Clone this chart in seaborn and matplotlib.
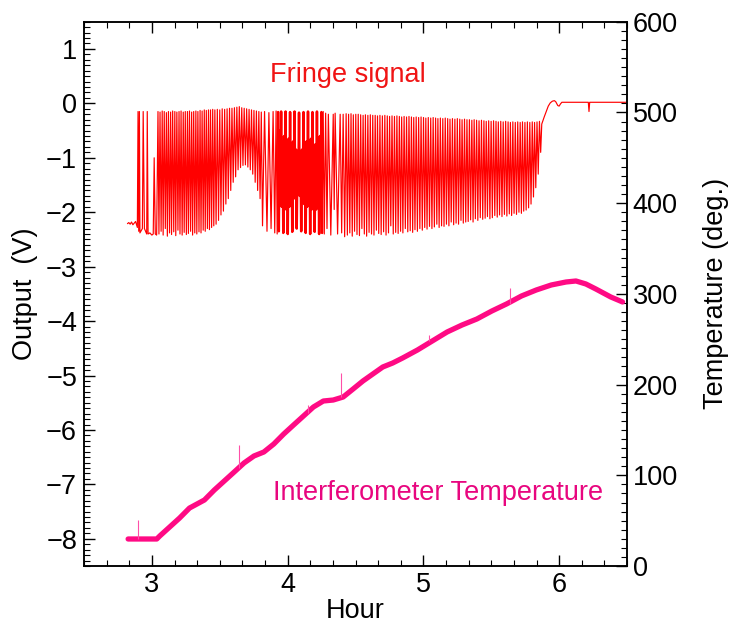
import numpy as np
import pandas as pd
import matplotlib
matplotlib.use("Agg")
import matplotlib.pyplot as plt
import seaborn as sns
from matplotlib.ticker import MultipleLocator

# ---------------- data ----------------
# Fringe signal (V) - turning points of the trace, section by section
start_t = [2.820, 2.830, 2.840, 2.850, 2.860, 2.870, 2.880, 2.893, 2.898, 2.903, 2.908, 2.912,
           2.930, 2.936, 2.945, 2.955, 2.962, 2.966, 2.972, 2.985, 3.000, 3.010, 3.017, 3.025, 3.035]
start_v = [-2.21, -2.19, -2.22, -2.18, -2.23, -2.20, -2.17, -2.28, -0.15, -2.35, -0.15, -2.38,
           -2.30, -0.15, -2.30, -2.36, -2.40, -0.15, -2.40, -2.38, -2.42, -2.40, -1.00, -2.40, -2.42]

a_peak_t = [3.045, 3.060, 3.076, 3.091, 3.107, 3.122, 3.138, 3.153, 3.169, 3.184, 3.200, 3.215, 3.231, 3.246,
            3.262, 3.277, 3.293, 3.308, 3.324, 3.339, 3.355, 3.370, 3.386, 3.401, 3.417, 3.432, 3.448]
a_peak_v = [-0.15, -0.16, -0.14, -0.15, -0.17, -0.15, -0.16, -0.14, -0.15, -0.16, -0.15, -0.14, -0.16, -0.15,
            -0.15, -0.14, -0.16, -0.15, -0.14, -0.15, -0.13, -0.14, -0.12, -0.13, -0.12, -0.12, -0.11]
a_valley_t = [3.052, 3.068, 3.083, 3.099, 3.114, 3.130, 3.145, 3.161, 3.176, 3.192, 3.207, 3.223, 3.238, 3.254,
              3.269, 3.285, 3.300, 3.316, 3.331, 3.347, 3.362, 3.378, 3.393, 3.409, 3.424, 3.440, 3.456]
a_valley_v = [-2.40, -2.35, -2.42, -2.30, -2.44, -2.38, -2.41, -2.36, -2.43, -2.33, -2.40, -2.42, -2.37, -2.41,
              -2.39, -2.35, -2.42, -2.38, -2.40, -2.36, -2.38, -2.33, -2.35, -2.30, -2.32, -2.28, -2.25]

b_peak_t = [3.464, 3.482, 3.500, 3.518, 3.536, 3.554, 3.572, 3.590, 3.608, 3.626,
            3.644, 3.662, 3.680, 3.698, 3.716, 3.734, 3.752, 3.770, 3.788, 3.806]
b_peak_v = [-0.12, -0.11, -0.12, -0.10, -0.11, -0.10, -0.09, -0.09, -0.08, -0.07,
            -0.06, -0.08, -0.09, -0.10, -0.11, -0.12, -0.13, -0.14, -0.15, -0.16]
b_valley_t = [3.473, 3.491, 3.509, 3.527, 3.545, 3.563, 3.581, 3.599, 3.617, 3.635,
              3.653, 3.671, 3.689, 3.707, 3.725, 3.743, 3.761, 3.779, 3.797, 3.815]
b_valley_v = [-2.22, -2.15, -2.05, -1.98, -1.85, -1.75, -1.60, -1.45, -1.35, -1.22,
              -1.18, -1.14, -1.13, -1.17, -1.22, -1.30, -1.45, -1.60, -1.75, -2.25]

c_t = [3.830, 3.848, 3.862, 3.878, 3.893, 3.905, 3.915, 3.923]
c_v = [-0.15, -2.35, -0.17, -2.30, -0.15, -2.38, -0.14, -2.40]

d_peak_t = [3.930, 3.941, 3.952, 3.963, 3.974, 3.985, 3.996, 4.007, 4.018, 4.029,
            4.040, 4.051, 4.062, 4.073, 4.084, 4.095, 4.106, 4.117, 4.128, 4.139,
            4.150, 4.161, 4.172, 4.183, 4.194, 4.205, 4.216, 4.227, 4.238, 4.249]
d_peak_v = [-0.16, -0.50, -0.15, -0.70, -0.60, -0.15, -0.75, -0.65, -0.16, -0.80,
            -0.70, -0.15, -0.85, -0.95, -0.17, -0.90, -0.85, -0.16, -0.80, -0.70,
            -0.15, -0.75, -0.65, -0.16, -0.80, -0.75, -0.15, -0.90, -0.60, -0.16]
d_valley_t = [3.935, 3.946, 3.957, 3.968, 3.979, 3.990, 4.001, 4.012, 4.023, 4.034,
              4.045, 4.056, 4.067, 4.078, 4.089, 4.100, 4.111, 4.122, 4.133, 4.144,
              4.155, 4.166, 4.177, 4.188, 4.199, 4.210, 4.221, 4.232, 4.243, 4.254]
d_valley_v = [-2.35, -1.80, -1.90, -2.38, -1.85, -1.95, -2.40, -1.90, -1.80, -2.36,
              -1.75, -1.70, -2.30, -1.65, -1.70, -2.35, -1.80, -1.85, -2.38, -1.90,
              -1.85, -2.40, -1.95, -1.90, -2.36, -1.95, -1.85, -2.40, -2.00, -2.38]

e_t = [4.262, 4.270, 4.280, 4.290, 4.300, 4.318, 4.336, 4.343, 4.350, 4.368, 4.387, 4.398, 4.409, 4.420]
e_v = [-0.15, -2.40, -0.18, -2.30, -0.20, -2.42, -0.20, -1.95, -0.18, -2.40, -0.20, -2.38, -0.20, -2.45]

f_peak_t = [4.431, 4.449, 4.467, 4.484, 4.502, 4.520, 4.538, 4.556, 4.573, 4.591,
            4.609, 4.627, 4.645, 4.662, 4.680, 4.698, 4.716, 4.734, 4.751, 4.769,
            4.787, 4.805, 4.823, 4.840, 4.858, 4.876, 4.894, 4.912, 4.929, 4.947,
            4.965, 4.983, 5.001, 5.018, 5.036, 5.054, 5.072, 5.090, 5.107, 5.125,
            5.143, 5.161, 5.179, 5.196, 5.214, 5.232, 5.250, 5.268, 5.285, 5.303,
            5.321, 5.339, 5.357, 5.374, 5.392, 5.410, 5.428, 5.446, 5.463, 5.481,
            5.499, 5.517, 5.535, 5.552, 5.570, 5.588, 5.606, 5.624, 5.641, 5.659,
            5.677, 5.695, 5.713, 5.730, 5.748, 5.766, 5.784, 5.802, 5.819, 5.837, 5.855]
f_peak_v = [-0.19, -0.20, -0.19, -0.21, -0.20, -0.20, -0.21, -0.22, -0.21, -0.22,
            -0.21, -0.22, -0.22, -0.23, -0.22, -0.23, -0.22, -0.23, -0.24, -0.23,
            -0.24, -0.23, -0.24, -0.25, -0.24, -0.25, -0.24, -0.25, -0.26, -0.25,
            -0.26, -0.25, -0.26, -0.27, -0.26, -0.27, -0.26, -0.27, -0.28, -0.27,
            -0.28, -0.27, -0.28, -0.29, -0.28, -0.29, -0.28, -0.29, -0.30, -0.29,
            -0.30, -0.30, -0.31, -0.30, -0.31, -0.32, -0.31, -0.32, -0.33, -0.32,
            -0.33, -0.32, -0.33, -0.34, -0.33, -0.34, -0.33, -0.34, -0.35, -0.34,
            -0.35, -0.34, -0.35, -0.34, -0.35, -0.34, -0.35, -0.34, -0.35, -0.34, -0.33]
f_valley_t = [4.440, 4.458, 4.476, 4.493, 4.511, 4.529, 4.547, 4.565, 4.582, 4.600,
              4.618, 4.636, 4.654, 4.671, 4.689, 4.707, 4.725, 4.743, 4.760, 4.778,
              4.796, 4.814, 4.832, 4.849, 4.867, 4.885, 4.903, 4.921, 4.938, 4.956,
              4.974, 4.992, 5.010, 5.027, 5.045, 5.063, 5.081, 5.099, 5.116, 5.134,
              5.152, 5.170, 5.188, 5.205, 5.223, 5.241, 5.259, 5.277, 5.294, 5.312,
              5.330, 5.348, 5.366, 5.383, 5.401, 5.419, 5.437, 5.455, 5.472, 5.490,
              5.508, 5.526, 5.544, 5.561, 5.579, 5.597, 5.615, 5.633, 5.650, 5.668,
              5.686, 5.704, 5.722, 5.739, 5.757, 5.775, 5.793, 5.811, 5.828, 5.846, 5.864]
f_valley_v = [-2.42, -2.38, -2.44, -2.35, -2.41, -2.43, -2.30, -2.40, -2.44, -2.37,
              -2.40, -2.42, -2.33, -2.39, -2.41, -2.36, -2.42, -2.38, -2.25, -2.40,
              -2.37, -2.39, -2.35, -2.38, -2.30, -2.36, -2.34, -2.37, -2.32, -2.35,
              -2.30, -2.33, -2.28, -2.31, -2.26, -2.30, -2.27, -2.22, -2.28, -2.25,
              -2.26, -2.22, -2.25, -2.18, -2.23, -2.20, -2.22, -2.15, -2.20, -2.18,
              -2.17, -2.14, -2.18, -2.12, -2.15, -2.10, -2.13, -2.11, -2.08, -2.12,
              -2.10, -2.06, -2.09, -2.05, -2.08, -2.04, -2.07, -2.03, -2.06, -2.02,
              -2.04, -2.00, -2.02, -1.98, -1.96, -1.92, -1.85, -1.72, -1.55, -1.30, -0.90]

end_t = [5.872, 5.880, 5.890, 5.905, 5.920, 5.935, 5.950, 5.965, 5.975, 5.990,
         6.000, 6.010, 6.020, 6.215, 6.220, 6.225, 6.500]
end_v = [-0.38, -0.32, -0.25, -0.15, -0.05, 0.01, 0.04, 0.05, 0.03, -0.04,
         -0.05, -0.01, 0.02, 0.02, -0.15, 0.02, 0.02]

# Interferometer temperature (deg.)
temp_hour = [2.825, 3.036, 3.058, 3.131, 3.204, 3.277, 3.387, 3.460, 3.533, 3.606, 3.679, 3.752,
             3.825, 3.898, 3.971, 4.044, 4.117, 4.190, 4.263, 4.336, 4.409, 4.482, 4.555, 4.628,
             4.701, 4.774, 4.847, 4.956, 5.066, 5.175, 5.285, 5.394, 5.504, 5.613, 5.723, 5.832,
             5.942, 6.051, 6.124, 6.197, 6.270, 6.380, 6.467]
temp_deg = [29.8, 29.8, 33.1, 43.0, 52.9, 63.9, 72.8, 83.8, 93.7, 103.6, 113.6, 121.3,
            125.7, 134.5, 145.5, 155.5, 165.4, 175.3, 181.9, 183.0, 186.3, 195.1, 204.0, 211.7,
            219.4, 223.8, 229.3, 238.1, 248.1, 258.0, 265.7, 272.3, 281.1, 288.9, 297.7, 304.3,
            309.8, 313.1, 314.2, 310.9, 305.4, 296.6, 291.1]

# small glitches on the temperature record
spike_hour = [2.90, 3.64, 4.15, 4.39, 5.04, 5.64]
spike_base = [30.0, 108.0, 169.0, 186.0, 248.0, 289.0]
spike_top = [51.0, 133.0, 177.0, 213.0, 255.0, 306.0]

x_ticks = [3, 4, 5, 6]
v_ticks = [-8, -7, -6, -5, -4, -3, -2, -1, 0, 1]
t_ticks = [0, 100, 200, 300, 400, 500, 600]


def interleave(a, b):
    out = []
    for i in range(max(len(a), len(b))):
        if i < len(a):
            out.append(a[i])
        if i < len(b):
            out.append(b[i])
    return out


fringe_t = (start_t + interleave(a_peak_t, a_valley_t) + interleave(b_peak_t, b_valley_t) + c_t
            + interleave(d_peak_t, d_valley_t) + e_t + interleave(f_peak_t, f_valley_t) + end_t)
fringe_v = (start_v + interleave(a_peak_v, a_valley_v) + interleave(b_peak_v, b_valley_v) + c_v
            + interleave(d_peak_v, d_valley_v) + e_v + interleave(f_peak_v, f_valley_v) + end_v)
fringe_df = pd.DataFrame({"Hour": fringe_t, "Output": fringe_v})
blob_df = pd.DataFrame({"Hour": interleave(d_peak_t, d_valley_t),
                        "Output": interleave(d_peak_v, d_valley_v)})
temp_df = pd.DataFrame({"Hour": temp_hour, "Temperature": temp_deg})

# ---------------- style ----------------
sns.set_theme(style="ticks")
plt.rcParams["font.family"] = ["Liberation Sans", "DejaVu Sans"]
FS = 19.5

fig = plt.figure(figsize=(7.33, 6.26), dpi=100)
ax = fig.add_axes([0.1146, 0.0958, 0.7408, 0.8695])
ax2 = ax.twinx()

sns.lineplot(data=fringe_df, x="Hour", y="Output", ax=ax, color="#ff0000", lw=0.85,
             sort=False, estimator=None, legend=False)
# the densely packed fringes around hour 4 merge into a solid patch
sns.lineplot(data=blob_df, x="Hour", y="Output", ax=ax, color="#ff0000", lw=1.8,
             sort=False, estimator=None, legend=False)
sns.lineplot(data=temp_df, x="Hour", y="Temperature", ax=ax2, color="#ff0a84", lw=3.8,
             sort=False, estimator=None, legend=False)
ax2.vlines(spike_hour, spike_base, spike_top, color="#ff4fa8", lw=0.8)

ax.set_xlim(2.5, 6.5)
ax.set_ylim(-8.5, 1.5)
ax2.set_ylim(0, 600)

ax.set_xticks(x_ticks)
ax.set_yticks(v_ticks)
ax.set_yticklabels([("\u2212%d" % abs(v)) if v < 0 else str(v) for v in v_ticks])
ax2.set_yticks(t_ticks)
ax.xaxis.set_minor_locator(MultipleLocator(1 / 6))
ax.yaxis.set_minor_locator(MultipleLocator(0.1))
ax2.yaxis.set_minor_locator(MultipleLocator(10))

ax.tick_params(axis="x", which="both", direction="in", top=True, bottom=True, labelsize=FS,
               pad=4, colors="black")
ax.tick_params(axis="y", which="both", direction="in", left=True, right=False, labelsize=FS,
               pad=5, colors="black")
ax2.tick_params(axis="y", which="both", direction="in", right=True, left=False, labelsize=FS,
                pad=4, colors="black")
for a in (ax, ax2):
    a.tick_params(which="major", length=8, width=1.0)
    a.tick_params(which="minor", length=4, width=0.8)
    for s in a.spines.values():
        s.set_color("black")
        s.set_linewidth(1.1)

ax.set_xlabel("Hour", fontsize=FS, labelpad=0, color="black")
ax.set_ylabel("Output  (V)", fontsize=FS, labelpad=6, color="black")
ax2.set_ylabel("Temperature (deg.)", fontsize=FS, labelpad=18, color="black")

ax.text(4.445, 0.53, "Fringe signal", color="#f01414", fontsize=FS, ha="center", va="center")
ax.text(5.11, -7.16, "Interferometer Temperature", color="#e8067f", fontsize=FS,
        ha="center", va="center")

fig.savefig("out.png", dpi=100)
